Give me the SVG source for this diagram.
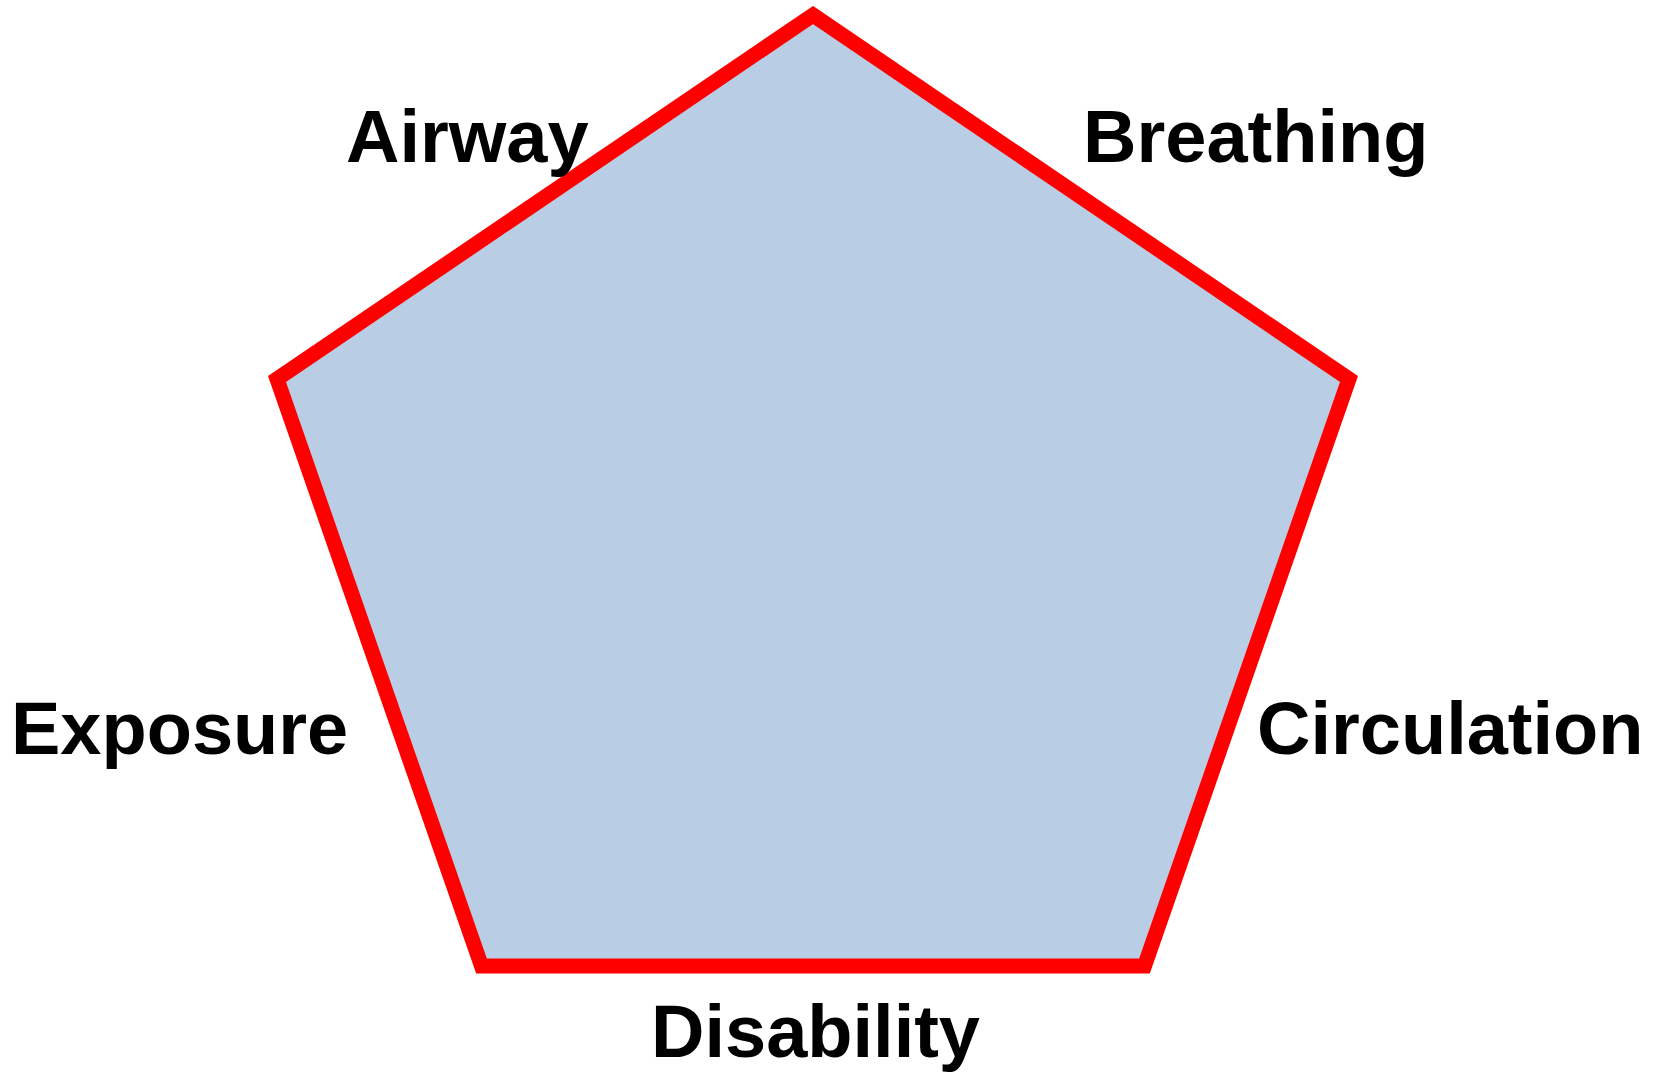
<svg xmlns="http://www.w3.org/2000/svg" width="1661" height="1073" viewBox="0 0 1661 1073">
<style>
.lbl{font-family:"Liberation Sans",Arial,sans-serif;font-weight:bold;font-size:74px;fill:#000}
</style>
<rect width="1661" height="1073" fill="#fff"/>
<g id="pentagon">
<polygon points="813,15 1349,379 1144.5,966 481.5,966 277,379" fill="#B9CDE5" stroke="#FF0000" stroke-width="15" stroke-linejoin="miter"/>
</g>
<g id="connectors"></g>
<g id="airway"><text class="lbl" x="346" y="162">Airway</text></g>
<g id="breathing"><text class="lbl" x="1083" y="162">Breathing</text></g>
<g id="circulation"><text class="lbl" x="1257" y="754">Circulation</text></g>
<g id="disability"><text class="lbl" x="651" y="1057">Disability</text></g>
<g id="exposure"><text class="lbl" x="11" y="754">Exposure</text></g>
</svg>
